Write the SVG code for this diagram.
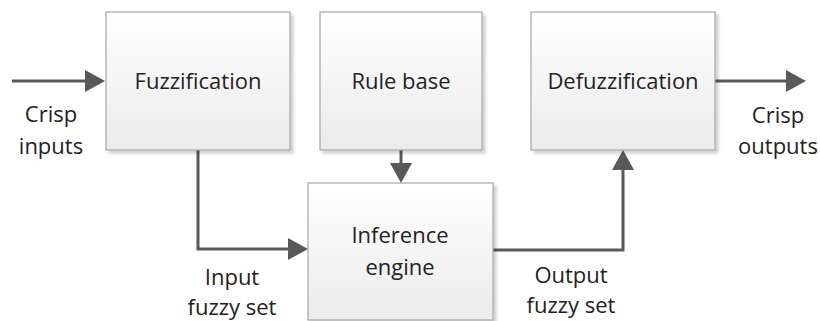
<svg xmlns="http://www.w3.org/2000/svg" width="820" height="321" viewBox="0 0 820 321">
<style>
.box{fill:url(#g);stroke:#a6a6a6;stroke-width:1.2;filter:url(#sh)}
.t{font-family:"Open Sans","Liberation Sans",sans-serif;font-size:22px;fill:#222;text-anchor:middle}
.c{fill:none;stroke:#595959;stroke-width:3;marker-end:url(#ah)}
</style>
<defs>
<linearGradient id="g" x1="0" y1="0" x2="0" y2="1">
<stop offset="0" stop-color="#ffffff"/>
<stop offset="1" stop-color="#ebebeb"/>
</linearGradient>
<filter id="sh" x="-10%" y="-10%" width="130%" height="130%">
<feDropShadow dx="3" dy="3" stdDeviation="1.5" flood-color="#000" flood-opacity="0.18"/>
</filter>
<marker id="ah" viewBox="0 0 20 22" refX="10" refY="11" markerWidth="20" markerHeight="22" markerUnits="userSpaceOnUse" orient="auto">
<path d="M0,0 L20,11 L0,22 z" fill="#595959"/>
</marker>
</defs>
<rect width="820" height="321" fill="#fff"/>
<g id="connectors">
<path class="c" d="M12,81 H95"/>
<path class="c" d="M715,81 H796"/>
<path class="c" d="M401,150 V173"/>
<path class="c" d="M198,150 V249 H298"/>
<path class="c" d="M493,250 H623 V160"/>
</g>
<g id="fuzzification">
<rect class="box" x="106" y="12" width="184" height="138"/>
<text class="t" x="198" y="89">Fuzzification</text>
</g>
<g id="rule-base">
<rect class="box" x="320" y="12" width="162" height="138"/>
<text class="t" x="401" y="89">Rule base</text>
</g>
<g id="defuzzification">
<rect class="box" x="531" y="12" width="184" height="138"/>
<text class="t" x="623" y="89">Defuzzification</text>
</g>
<g id="inference-engine">
<rect class="box" x="308" y="183" width="185" height="137"/>
<text class="t" x="400" y="243">Inference</text>
<text class="t" x="400" y="275">engine</text>
</g>
<g id="labels">
<text class="t" x="51" y="122">Crisp</text>
<text class="t" x="51" y="154">inputs</text>
<text class="t" x="778" y="123">Crisp</text>
<text class="t" x="778" y="154">outputs</text>
<text class="t" x="232" y="285">Input</text>
<text class="t" x="232" y="315">fuzzy set</text>
<text class="t" x="571" y="283">Output</text>
<text class="t" x="571" y="313">fuzzy set</text>
</g>
</svg>
